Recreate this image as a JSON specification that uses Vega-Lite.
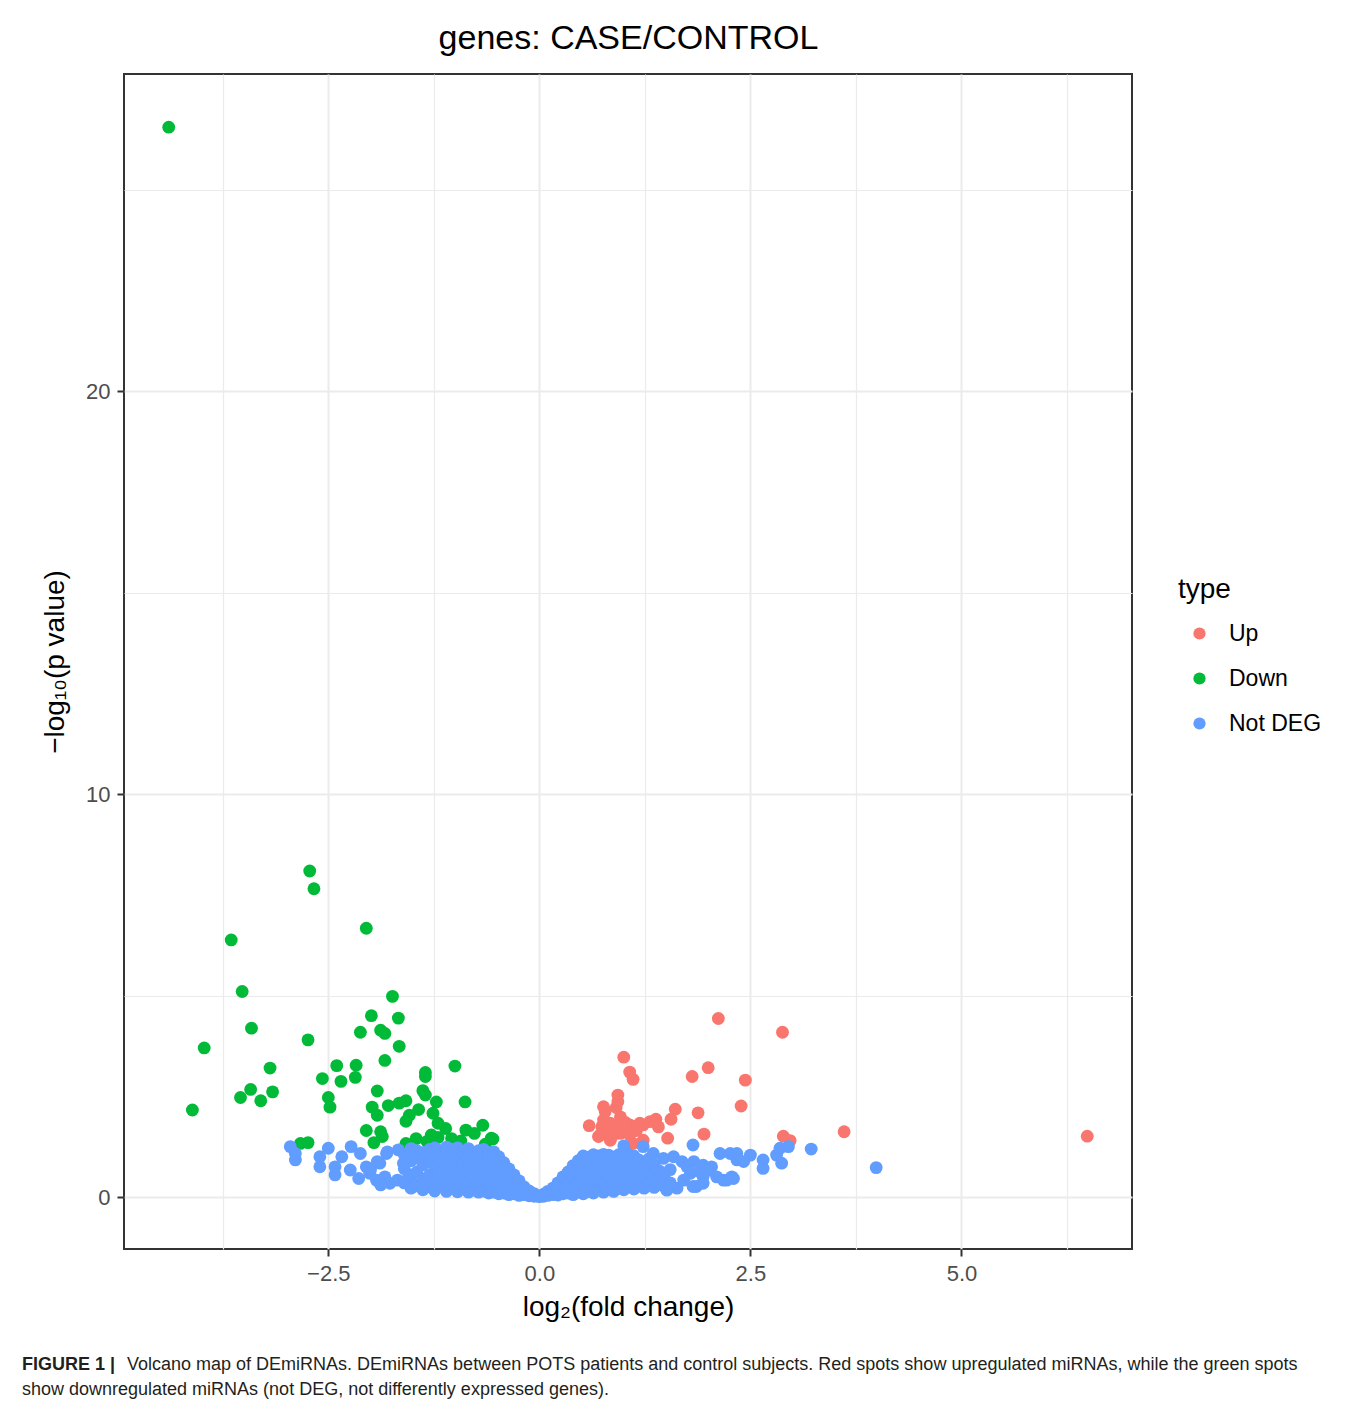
{
"$schema": "https://vega.github.io/schema/vega-lite/v6.json",
"width": 1008, "height": 1175,
"autosize": {"type": "none"},
"padding": {"left": 124, "top": 74, "right": 226, "bottom": 158},
"background": "white",
"title": {
 "text": "FIGURE 1 |",
 "subtitle": ["\u200b\u00a0\u00a0\u00a0\u00a0\u00a0\u00a0\u00a0\u00a0\u00a0\u00a0\u00a0\u00a0\u00a0\u00a0\u00a0\u00a0\u00a0\u00a0\u00a0\u00a0\u00a0Volcano map of DEmiRNAs. DEmiRNAs between POTS patients and control subjects. Red spots show upregulated miRNAs, while the green spots", "show downregulated miRNAs (not DEG, not differently expressed genes)."],
 "orient": "bottom", "anchor": "start", "frame": "group", "dx": -102, "offset": 35,
 "font": "Liberation Sans", "fontSize": 18, "fontWeight": "bold", "color": "#231F20",
 "subtitleFont": "Liberation Sans", "subtitleFontSize": 18, "subtitleColor": "#231F20", "subtitlePadding": -18, "subtitleLineHeight": 25
},
"datasets": {
 "sig": [
  {"log2FC":2.12,"negLog10P":4.43,"type":"Up"},{"log2FC":2.88,"negLog10P":4.09,"type":"Up"},{"log2FC":1.00,"negLog10P":3.47,"type":"Up"},{"log2FC":1.07,"negLog10P":3.10,"type":"Up"},{"log2FC":1.11,"negLog10P":2.92,"type":"Up"},{"log2FC":2.00,"negLog10P":3.21,"type":"Up"},{"log2FC":1.81,"negLog10P":2.99,"type":"Up"},{"log2FC":2.44,"negLog10P":2.90,"type":"Up"},{"log2FC":0.93,"negLog10P":2.53,"type":"Up"},{"log2FC":0.93,"negLog10P":2.37,"type":"Up"},{"log2FC":0.76,"negLog10P":2.24,"type":"Up"},{"log2FC":0.91,"negLog10P":2.22,"type":"Up"},{"log2FC":0.78,"negLog10P":2.12,"type":"Up"},{"log2FC":1.61,"negLog10P":2.18,"type":"Up"},{"log2FC":1.56,"negLog10P":1.93,"type":"Up"},{"log2FC":1.88,"negLog10P":2.09,"type":"Up"},{"log2FC":2.39,"negLog10P":2.26,"type":"Up"},{"log2FC":0.96,"negLog10P":1.99,"type":"Up"},{"log2FC":0.97,"negLog10P":1.76,"type":"Up"},{"log2FC":0.59,"negLog10P":1.77,"type":"Up"},{"log2FC":0.74,"negLog10P":1.74,"type":"Up"},{"log2FC":0.84,"negLog10P":1.83,"type":"Up"},{"log2FC":1.07,"negLog10P":1.79,"type":"Up"},{"log2FC":1.19,"negLog10P":1.83,"type":"Up"},{"log2FC":1.31,"negLog10P":1.87,"type":"Up"},{"log2FC":1.38,"negLog10P":1.93,"type":"Up"},{"log2FC":1.41,"negLog10P":1.74,"type":"Up"},{"log2FC":0.70,"negLog10P":1.50,"type":"Up"},{"log2FC":0.84,"negLog10P":1.41,"type":"Up"},{"log2FC":0.96,"negLog10P":1.58,"type":"Up"},{"log2FC":1.07,"negLog10P":1.54,"type":"Up"},{"log2FC":1.23,"negLog10P":1.41,"type":"Up"},{"log2FC":1.11,"negLog10P":1.33,"type":"Up"},{"log2FC":1.52,"negLog10P":1.46,"type":"Up"},{"log2FC":1.95,"negLog10P":1.56,"type":"Up"},{"log2FC":2.89,"negLog10P":1.51,"type":"Up"},{"log2FC":2.97,"negLog10P":1.40,"type":"Up"},{"log2FC":3.61,"negLog10P":1.62,"type":"Up"},{"log2FC":6.49,"negLog10P":1.51,"type":"Up"},{"log2FC":0.76,"negLog10P":1.91,"type":"Up"},{"log2FC":0.88,"negLog10P":1.70,"type":"Up"},{"log2FC":0.72,"negLog10P":1.54,"type":"Up"},{"log2FC":0.86,"negLog10P":1.50,"type":"Up"},{"log2FC":1.23,"negLog10P":1.79,"type":"Up"},{"log2FC":1.02,"negLog10P":1.85,"type":"Up"},{"log2FC":0.80,"negLog10P":1.62,"type":"Up"},{"log2FC":1.15,"negLog10P":1.65,"type":"Up"},
  {"log2FC":-4.39,"negLog10P":26.55,"type":"Down"},{"log2FC":-2.72,"negLog10P":8.09,"type":"Down"},{"log2FC":-2.67,"negLog10P":7.65,"type":"Down"},{"log2FC":-2.05,"negLog10P":6.67,"type":"Down"},{"log2FC":-3.65,"negLog10P":6.38,"type":"Down"},{"log2FC":-3.52,"negLog10P":5.10,"type":"Down"},{"log2FC":-1.74,"negLog10P":4.98,"type":"Down"},{"log2FC":-1.99,"negLog10P":4.50,"type":"Down"},{"log2FC":-1.67,"negLog10P":4.44,"type":"Down"},{"log2FC":-3.41,"negLog10P":4.19,"type":"Down"},{"log2FC":-2.12,"negLog10P":4.09,"type":"Down"},{"log2FC":-1.88,"negLog10P":4.14,"type":"Down"},{"log2FC":-1.83,"negLog10P":4.06,"type":"Down"},{"log2FC":-3.97,"negLog10P":3.70,"type":"Down"},{"log2FC":-2.74,"negLog10P":3.90,"type":"Down"},{"log2FC":-1.66,"negLog10P":3.74,"type":"Down"},{"log2FC":-1.83,"negLog10P":3.39,"type":"Down"},{"log2FC":-2.40,"negLog10P":3.26,"type":"Down"},{"log2FC":-2.17,"negLog10P":3.27,"type":"Down"},{"log2FC":-1.00,"negLog10P":3.25,"type":"Down"},{"log2FC":-3.19,"negLog10P":3.20,"type":"Down"},{"log2FC":-1.35,"negLog10P":3.09,"type":"Down"},{"log2FC":-1.35,"negLog10P":2.99,"type":"Down"},{"log2FC":-2.57,"negLog10P":2.94,"type":"Down"},{"log2FC":-2.35,"negLog10P":2.87,"type":"Down"},{"log2FC":-2.18,"negLog10P":2.97,"type":"Down"},{"log2FC":-3.42,"negLog10P":2.67,"type":"Down"},{"log2FC":-3.16,"negLog10P":2.61,"type":"Down"},{"log2FC":-3.54,"negLog10P":2.47,"type":"Down"},{"log2FC":-3.30,"negLog10P":2.39,"type":"Down"},{"log2FC":-4.11,"negLog10P":2.16,"type":"Down"},{"log2FC":-1.92,"negLog10P":2.63,"type":"Down"},{"log2FC":-1.38,"negLog10P":2.64,"type":"Down"},{"log2FC":-1.35,"negLog10P":2.53,"type":"Down"},{"log2FC":-1.22,"negLog10P":2.36,"type":"Down"},{"log2FC":-0.88,"negLog10P":2.36,"type":"Down"},{"log2FC":-2.50,"negLog10P":2.47,"type":"Down"},{"log2FC":-2.48,"negLog10P":2.23,"type":"Down"},{"log2FC":-1.98,"negLog10P":2.23,"type":"Down"},{"log2FC":-1.92,"negLog10P":2.03,"type":"Down"},{"log2FC":-1.79,"negLog10P":2.27,"type":"Down"},{"log2FC":-1.66,"negLog10P":2.33,"type":"Down"},{"log2FC":-1.58,"negLog10P":2.39,"type":"Down"},{"log2FC":-1.43,"negLog10P":2.17,"type":"Down"},{"log2FC":-1.54,"negLog10P":2.03,"type":"Down"},{"log2FC":-1.58,"negLog10P":1.88,"type":"Down"},{"log2FC":-1.26,"negLog10P":2.08,"type":"Down"},{"log2FC":-1.20,"negLog10P":1.83,"type":"Down"},{"log2FC":-1.11,"negLog10P":1.70,"type":"Down"},{"log2FC":-0.67,"negLog10P":1.78,"type":"Down"},{"log2FC":-2.05,"negLog10P":1.65,"type":"Down"},{"log2FC":-1.88,"negLog10P":1.62,"type":"Down"},{"log2FC":-1.86,"negLog10P":1.50,"type":"Down"},{"log2FC":-1.96,"negLog10P":1.35,"type":"Down"},{"log2FC":-0.87,"negLog10P":1.66,"type":"Down"},{"log2FC":-0.77,"negLog10P":1.58,"type":"Down"},{"log2FC":-0.57,"negLog10P":1.46,"type":"Down"},{"log2FC":-0.64,"negLog10P":1.31,"type":"Down"},{"log2FC":-1.28,"negLog10P":1.54,"type":"Down"},{"log2FC":-1.20,"negLog10P":1.48,"type":"Down"},{"log2FC":-1.46,"negLog10P":1.45,"type":"Down"},{"log2FC":-1.58,"negLog10P":1.33,"type":"Down"},{"log2FC":-2.83,"negLog10P":1.33,"type":"Down"},{"log2FC":-2.74,"negLog10P":1.35,"type":"Down"},{"log2FC":-0.93,"negLog10P":1.39,"type":"Down"},{"log2FC":-0.55,"negLog10P":1.44,"type":"Down"},{"log2FC":-1.04,"negLog10P":1.45,"type":"Down"},{"log2FC":-1.33,"negLog10P":1.38,"type":"Down"}
 ],
 "nd": [
  {"log2FC":-2.95,"negLog10P":1.25,"type":"Not DEG"},{"log2FC":-2.89,"negLog10P":1.08,"type":"Not DEG"},{"log2FC":-2.89,"negLog10P":0.92,"type":"Not DEG"},{"log2FC":-2.60,"negLog10P":1.00,"type":"Not DEG"},{"log2FC":-2.60,"negLog10P":0.75,"type":"Not DEG"},{"log2FC":-2.50,"negLog10P":1.21,"type":"Not DEG"},{"log2FC":-2.42,"negLog10P":0.75,"type":"Not DEG"},{"log2FC":-2.42,"negLog10P":0.55,"type":"Not DEG"},{"log2FC":-2.34,"negLog10P":1.00,"type":"Not DEG"},{"log2FC":-2.24,"negLog10P":0.67,"type":"Not DEG"},{"log2FC":-2.23,"negLog10P":1.25,"type":"Not DEG"},{"log2FC":-2.12,"negLog10P":1.08,"type":"Not DEG"},{"log2FC":-2.14,"negLog10P":0.46,"type":"Not DEG"},{"log2FC":-2.05,"negLog10P":0.75,"type":"Not DEG"},{"log2FC":-2.01,"negLog10P":0.59,"type":"Not DEG"},{"log2FC":-1.89,"negLog10P":0.84,"type":"Not DEG"},{"log2FC":-1.93,"negLog10P":0.42,"type":"Not DEG"},{"log2FC":-1.81,"negLog10P":1.08,"type":"Not DEG"},{"log2FC":-1.83,"negLog10P":0.50,"type":"Not DEG"},{"log2FC":-1.77,"negLog10P":0.34,"type":"Not DEG"},{"log2FC":-1.67,"negLog10P":1.17,"type":"Not DEG"},{"log2FC":-1.61,"negLog10P":0.84,"type":"Not DEG"},{"log2FC":-1.57,"negLog10P":0.42,"type":"Not DEG"},{"log2FC":-1.49,"negLog10P":0.26,"type":"Not DEG"},{"log2FC":-2.00,"negLog10P":0.67,"type":"Not DEG"},{"log2FC":-1.88,"negLog10P":0.30,"type":"Not DEG"},{"log2FC":-1.92,"negLog10P":0.88,"type":"Not DEG"},{"log2FC":-1.80,"negLog10P":1.12,"type":"Not DEG"},{"log2FC":-1.68,"negLog10P":0.42,"type":"Not DEG"},
  {"log2FC":-1.60,"negLog10P":0.35,"type":"Not DEG"},{"log2FC":-1.60,"negLog10P":0.70,"type":"Not DEG"},{"log2FC":-1.60,"negLog10P":1.05,"type":"Not DEG"},
  {"log2FC":-1.52,"negLog10P":0.22,"type":"Not DEG"},{"log2FC":-1.52,"negLog10P":0.55,"type":"Not DEG"},{"log2FC":-1.52,"negLog10P":0.90,"type":"Not DEG"},{"log2FC":-1.52,"negLog10P":1.20,"type":"Not DEG"},
  {"log2FC":-1.45,"negLog10P":0.30,"type":"Not DEG"},{"log2FC":-1.45,"negLog10P":0.62,"type":"Not DEG"},{"log2FC":-1.45,"negLog10P":0.98,"type":"Not DEG"},{"log2FC":-1.45,"negLog10P":1.15,"type":"Not DEG"},
  {"log2FC":-1.38,"negLog10P":0.18,"type":"Not DEG"},{"log2FC":-1.38,"negLog10P":0.45,"type":"Not DEG"},{"log2FC":-1.38,"negLog10P":0.80,"type":"Not DEG"},{"log2FC":-1.38,"negLog10P":1.10,"type":"Not DEG"},
  {"log2FC":-1.30,"negLog10P":0.25,"type":"Not DEG"},{"log2FC":-1.30,"negLog10P":0.55,"type":"Not DEG"},{"log2FC":-1.30,"negLog10P":0.88,"type":"Not DEG"},{"log2FC":-1.30,"negLog10P":1.18,"type":"Not DEG"},
  {"log2FC":-1.24,"negLog10P":0.15,"type":"Not DEG"},{"log2FC":-1.24,"negLog10P":0.40,"type":"Not DEG"},{"log2FC":-1.24,"negLog10P":0.72,"type":"Not DEG"},{"log2FC":-1.24,"negLog10P":1.02,"type":"Not DEG"},{"log2FC":-1.24,"negLog10P":1.22,"type":"Not DEG"},
  {"log2FC":-1.17,"negLog10P":0.28,"type":"Not DEG"},{"log2FC":-1.17,"negLog10P":0.60,"type":"Not DEG"},{"log2FC":-1.17,"negLog10P":0.92,"type":"Not DEG"},{"log2FC":-1.17,"negLog10P":1.15,"type":"Not DEG"},
  {"log2FC":-1.10,"negLog10P":0.14,"type":"Not DEG"},{"log2FC":-1.10,"negLog10P":0.45,"type":"Not DEG"},{"log2FC":-1.10,"negLog10P":0.78,"type":"Not DEG"},{"log2FC":-1.10,"negLog10P":1.05,"type":"Not DEG"},{"log2FC":-1.10,"negLog10P":1.24,"type":"Not DEG"},
  {"log2FC":-1.03,"negLog10P":0.22,"type":"Not DEG"},{"log2FC":-1.03,"negLog10P":0.55,"type":"Not DEG"},{"log2FC":-1.03,"negLog10P":0.88,"type":"Not DEG"},{"log2FC":-1.03,"negLog10P":1.18,"type":"Not DEG"},
  {"log2FC":-0.97,"negLog10P":0.13,"type":"Not DEG"},{"log2FC":-0.97,"negLog10P":0.38,"type":"Not DEG"},{"log2FC":-0.97,"negLog10P":0.70,"type":"Not DEG"},{"log2FC":-0.97,"negLog10P":1.00,"type":"Not DEG"},{"log2FC":-0.97,"negLog10P":1.22,"type":"Not DEG"},
  {"log2FC":-0.90,"negLog10P":0.20,"type":"Not DEG"},{"log2FC":-0.90,"negLog10P":0.50,"type":"Not DEG"},{"log2FC":-0.90,"negLog10P":0.82,"type":"Not DEG"},{"log2FC":-0.90,"negLog10P":1.12,"type":"Not DEG"},
  {"log2FC":-0.84,"negLog10P":0.12,"type":"Not DEG"},{"log2FC":-0.84,"negLog10P":0.35,"type":"Not DEG"},{"log2FC":-0.84,"negLog10P":0.65,"type":"Not DEG"},{"log2FC":-0.84,"negLog10P":0.95,"type":"Not DEG"},{"log2FC":-0.84,"negLog10P":1.20,"type":"Not DEG"},
  {"log2FC":-0.78,"negLog10P":0.18,"type":"Not DEG"},{"log2FC":-0.78,"negLog10P":0.48,"type":"Not DEG"},{"log2FC":-0.78,"negLog10P":0.78,"type":"Not DEG"},{"log2FC":-0.78,"negLog10P":1.08,"type":"Not DEG"},
  {"log2FC":-0.72,"negLog10P":0.12,"type":"Not DEG"},{"log2FC":-0.72,"negLog10P":0.32,"type":"Not DEG"},{"log2FC":-0.72,"negLog10P":0.62,"type":"Not DEG"},{"log2FC":-0.72,"negLog10P":0.92,"type":"Not DEG"},{"log2FC":-0.72,"negLog10P":1.15,"type":"Not DEG"},
  {"log2FC":-0.66,"negLog10P":0.15,"type":"Not DEG"},{"log2FC":-0.66,"negLog10P":0.45,"type":"Not DEG"},{"log2FC":-0.66,"negLog10P":0.75,"type":"Not DEG"},{"log2FC":-0.66,"negLog10P":1.02,"type":"Not DEG"},{"log2FC":-0.66,"negLog10P":1.18,"type":"Not DEG"},
  {"log2FC":-0.60,"negLog10P":0.10,"type":"Not DEG"},{"log2FC":-0.60,"negLog10P":0.30,"type":"Not DEG"},{"log2FC":-0.60,"negLog10P":0.58,"type":"Not DEG"},{"log2FC":-0.60,"negLog10P":0.88,"type":"Not DEG"},{"log2FC":-0.60,"negLog10P":1.10,"type":"Not DEG"},
  {"log2FC":-0.54,"negLog10P":0.12,"type":"Not DEG"},{"log2FC":-0.54,"negLog10P":0.40,"type":"Not DEG"},{"log2FC":-0.54,"negLog10P":0.70,"type":"Not DEG"},{"log2FC":-0.54,"negLog10P":0.95,"type":"Not DEG"},{"log2FC":-0.54,"negLog10P":1.12,"type":"Not DEG"},
  {"log2FC":-0.48,"negLog10P":0.08,"type":"Not DEG"},{"log2FC":-0.48,"negLog10P":0.25,"type":"Not DEG"},{"log2FC":-0.48,"negLog10P":0.52,"type":"Not DEG"},{"log2FC":-0.48,"negLog10P":0.80,"type":"Not DEG"},{"log2FC":-0.48,"negLog10P":1.00,"type":"Not DEG"},
  {"log2FC":-0.42,"negLog10P":0.10,"type":"Not DEG"},{"log2FC":-0.42,"negLog10P":0.35,"type":"Not DEG"},{"log2FC":-0.42,"negLog10P":0.62,"type":"Not DEG"},{"log2FC":-0.42,"negLog10P":0.85,"type":"Not DEG"},
  {"log2FC":-0.36,"negLog10P":0.06,"type":"Not DEG"},{"log2FC":-0.36,"negLog10P":0.22,"type":"Not DEG"},{"log2FC":-0.36,"negLog10P":0.48,"type":"Not DEG"},{"log2FC":-0.36,"negLog10P":0.70,"type":"Not DEG"},
  {"log2FC":-0.30,"negLog10P":0.08,"type":"Not DEG"},{"log2FC":-0.30,"negLog10P":0.30,"type":"Not DEG"},{"log2FC":-0.30,"negLog10P":0.55,"type":"Not DEG"},
  {"log2FC":-0.24,"negLog10P":0.04,"type":"Not DEG"},{"log2FC":-0.24,"negLog10P":0.20,"type":"Not DEG"},{"log2FC":-0.24,"negLog10P":0.40,"type":"Not DEG"},
  {"log2FC":-0.18,"negLog10P":0.06,"type":"Not DEG"},{"log2FC":-0.18,"negLog10P":0.25,"type":"Not DEG"},
  {"log2FC":-0.12,"negLog10P":0.03,"type":"Not DEG"},{"log2FC":-0.12,"negLog10P":0.15,"type":"Not DEG"},
  {"log2FC":-0.06,"negLog10P":0.02,"type":"Not DEG"},{"log2FC":-0.06,"negLog10P":0.08,"type":"Not DEG"},
  {"log2FC":0.00,"negLog10P":0.01,"type":"Not DEG"},
  {"log2FC":0.05,"negLog10P":0.02,"type":"Not DEG"},{"log2FC":0.05,"negLog10P":0.07,"type":"Not DEG"},
  {"log2FC":0.10,"negLog10P":0.04,"type":"Not DEG"},{"log2FC":0.10,"negLog10P":0.14,"type":"Not DEG"},
  {"log2FC":0.16,"negLog10P":0.06,"type":"Not DEG"},{"log2FC":0.16,"negLog10P":0.22,"type":"Not DEG"},
  {"log2FC":0.22,"negLog10P":0.05,"type":"Not DEG"},{"log2FC":0.22,"negLog10P":0.18,"type":"Not DEG"},{"log2FC":0.22,"negLog10P":0.35,"type":"Not DEG"},
  {"log2FC":0.28,"negLog10P":0.08,"type":"Not DEG"},{"log2FC":0.28,"negLog10P":0.28,"type":"Not DEG"},{"log2FC":0.28,"negLog10P":0.50,"type":"Not DEG"},
  {"log2FC":0.34,"negLog10P":0.10,"type":"Not DEG"},{"log2FC":0.34,"negLog10P":0.35,"type":"Not DEG"},{"log2FC":0.34,"negLog10P":0.62,"type":"Not DEG"},
  {"log2FC":0.40,"negLog10P":0.06,"type":"Not DEG"},{"log2FC":0.40,"negLog10P":0.25,"type":"Not DEG"},{"log2FC":0.40,"negLog10P":0.50,"type":"Not DEG"},{"log2FC":0.40,"negLog10P":0.78,"type":"Not DEG"},
  {"log2FC":0.46,"negLog10P":0.12,"type":"Not DEG"},{"log2FC":0.46,"negLog10P":0.38,"type":"Not DEG"},{"log2FC":0.46,"negLog10P":0.65,"type":"Not DEG"},{"log2FC":0.46,"negLog10P":0.90,"type":"Not DEG"},
  {"log2FC":0.52,"negLog10P":0.08,"type":"Not DEG"},{"log2FC":0.52,"negLog10P":0.28,"type":"Not DEG"},{"log2FC":0.52,"negLog10P":0.55,"type":"Not DEG"},{"log2FC":0.52,"negLog10P":0.82,"type":"Not DEG"},{"log2FC":0.52,"negLog10P":1.02,"type":"Not DEG"},
  {"log2FC":0.58,"negLog10P":0.14,"type":"Not DEG"},{"log2FC":0.58,"negLog10P":0.42,"type":"Not DEG"},{"log2FC":0.58,"negLog10P":0.70,"type":"Not DEG"},{"log2FC":0.58,"negLog10P":0.98,"type":"Not DEG"},
  {"log2FC":0.64,"negLog10P":0.10,"type":"Not DEG"},{"log2FC":0.64,"negLog10P":0.32,"type":"Not DEG"},{"log2FC":0.64,"negLog10P":0.60,"type":"Not DEG"},{"log2FC":0.64,"negLog10P":0.88,"type":"Not DEG"},{"log2FC":0.64,"negLog10P":1.05,"type":"Not DEG"},
  {"log2FC":0.70,"negLog10P":0.18,"type":"Not DEG"},{"log2FC":0.70,"negLog10P":0.45,"type":"Not DEG"},{"log2FC":0.70,"negLog10P":0.75,"type":"Not DEG"},{"log2FC":0.70,"negLog10P":1.02,"type":"Not DEG"},
  {"log2FC":0.76,"negLog10P":0.12,"type":"Not DEG"},{"log2FC":0.76,"negLog10P":0.36,"type":"Not DEG"},{"log2FC":0.76,"negLog10P":0.65,"type":"Not DEG"},{"log2FC":0.76,"negLog10P":0.92,"type":"Not DEG"},{"log2FC":0.76,"negLog10P":1.06,"type":"Not DEG"},
  {"log2FC":0.82,"negLog10P":0.20,"type":"Not DEG"},{"log2FC":0.82,"negLog10P":0.50,"type":"Not DEG"},{"log2FC":0.82,"negLog10P":0.80,"type":"Not DEG"},{"log2FC":0.82,"negLog10P":1.04,"type":"Not DEG"},
  {"log2FC":0.88,"negLog10P":0.14,"type":"Not DEG"},{"log2FC":0.88,"negLog10P":0.40,"type":"Not DEG"},{"log2FC":0.88,"negLog10P":0.70,"type":"Not DEG"},{"log2FC":0.88,"negLog10P":0.98,"type":"Not DEG"},
  {"log2FC":0.94,"negLog10P":0.22,"type":"Not DEG"},{"log2FC":0.94,"negLog10P":0.55,"type":"Not DEG"},{"log2FC":0.94,"negLog10P":0.85,"type":"Not DEG"},{"log2FC":0.94,"negLog10P":1.05,"type":"Not DEG"},
  {"log2FC":1.00,"negLog10P":0.18,"type":"Not DEG"},{"log2FC":1.00,"negLog10P":0.45,"type":"Not DEG"},{"log2FC":1.00,"negLog10P":0.75,"type":"Not DEG"},{"log2FC":1.00,"negLog10P":1.02,"type":"Not DEG"},
  {"log2FC":1.06,"negLog10P":0.25,"type":"Not DEG"},{"log2FC":1.06,"negLog10P":0.58,"type":"Not DEG"},{"log2FC":1.06,"negLog10P":0.90,"type":"Not DEG"},{"log2FC":1.06,"negLog10P":1.06,"type":"Not DEG"},
  {"log2FC":1.12,"negLog10P":0.20,"type":"Not DEG"},{"log2FC":1.12,"negLog10P":0.48,"type":"Not DEG"},{"log2FC":1.12,"negLog10P":0.78,"type":"Not DEG"},{"log2FC":1.12,"negLog10P":1.02,"type":"Not DEG"},
  {"log2FC":1.18,"negLog10P":0.28,"type":"Not DEG"},{"log2FC":1.18,"negLog10P":0.60,"type":"Not DEG"},{"log2FC":1.18,"negLog10P":0.92,"type":"Not DEG"},
  {"log2FC":1.24,"negLog10P":0.22,"type":"Not DEG"},{"log2FC":1.24,"negLog10P":0.50,"type":"Not DEG"},{"log2FC":1.24,"negLog10P":0.82,"type":"Not DEG"},
  {"log2FC":1.30,"negLog10P":0.30,"type":"Not DEG"},{"log2FC":1.30,"negLog10P":0.62,"type":"Not DEG"},{"log2FC":1.30,"negLog10P":0.95,"type":"Not DEG"},
  {"log2FC":1.36,"negLog10P":0.24,"type":"Not DEG"},{"log2FC":1.36,"negLog10P":0.52,"type":"Not DEG"},{"log2FC":1.36,"negLog10P":0.80,"type":"Not DEG"},
  {"log2FC":1.42,"negLog10P":0.32,"type":"Not DEG"},{"log2FC":1.42,"negLog10P":0.65,"type":"Not DEG"},
  {"log2FC":1.48,"negLog10P":0.26,"type":"Not DEG"},{"log2FC":1.48,"negLog10P":0.55,"type":"Not DEG"},
  {"log2FC":1.55,"negLog10P":0.35,"type":"Not DEG"},{"log2FC":1.55,"negLog10P":0.68,"type":"Not DEG"},
  {"log2FC":1.00,"negLog10P":1.27,"type":"Not DEG"},{"log2FC":1.82,"negLog10P":1.29,"type":"Not DEG"},{"log2FC":1.23,"negLog10P":1.25,"type":"Not DEG"},{"log2FC":1.35,"negLog10P":1.08,"type":"Not DEG"},{"log2FC":1.47,"negLog10P":0.96,"type":"Not DEG"},{"log2FC":1.59,"negLog10P":1.00,"type":"Not DEG"},{"log2FC":1.69,"negLog10P":0.88,"type":"Not DEG"},
  {"log2FC":2.14,"negLog10P":1.08,"type":"Not DEG"},{"log2FC":2.26,"negLog10P":1.08,"type":"Not DEG"},{"log2FC":2.34,"negLog10P":1.08,"type":"Not DEG"},{"log2FC":2.50,"negLog10P":1.04,"type":"Not DEG"},{"log2FC":2.65,"negLog10P":0.92,"type":"Not DEG"},{"log2FC":2.65,"negLog10P":0.71,"type":"Not DEG"},{"log2FC":2.81,"negLog10P":1.04,"type":"Not DEG"},{"log2FC":2.87,"negLog10P":0.84,"type":"Not DEG"},{"log2FC":2.85,"negLog10P":1.21,"type":"Not DEG"},{"log2FC":2.95,"negLog10P":1.25,"type":"Not DEG"},{"log2FC":3.22,"negLog10P":1.19,"type":"Not DEG"},{"log2FC":3.99,"negLog10P":0.73,"type":"Not DEG"},
  {"log2FC":2.30,"negLog10P":0.46,"type":"Not DEG"},{"log2FC":2.22,"negLog10P":0.42,"type":"Not DEG"},{"log2FC":2.10,"negLog10P":0.50,"type":"Not DEG"},{"log2FC":1.94,"negLog10P":0.50,"type":"Not DEG"},{"log2FC":1.79,"negLog10P":0.59,"type":"Not DEG"},{"log2FC":1.86,"negLog10P":0.26,"type":"Not DEG"},{"log2FC":1.63,"negLog10P":0.22,"type":"Not DEG"},{"log2FC":1.55,"negLog10P":0.26,"type":"Not DEG"},
  {"log2FC":1.75,"negLog10P":0.75,"type":"Not DEG"},{"log2FC":1.83,"negLog10P":0.88,"type":"Not DEG"},{"log2FC":1.94,"negLog10P":0.79,"type":"Not DEG"},{"log2FC":2.04,"negLog10P":0.75,"type":"Not DEG"},{"log2FC":2.34,"negLog10P":0.92,"type":"Not DEG"},{"log2FC":2.42,"negLog10P":0.88,"type":"Not DEG"},
  {"log2FC":1.90,"negLog10P":0.63,"type":"Not DEG"},{"log2FC":2.02,"negLog10P":0.67,"type":"Not DEG"},{"log2FC":2.18,"negLog10P":0.42,"type":"Not DEG"},{"log2FC":2.28,"negLog10P":0.50,"type":"Not DEG"},{"log2FC":1.94,"negLog10P":0.34,"type":"Not DEG"},{"log2FC":1.82,"negLog10P":0.26,"type":"Not DEG"},{"log2FC":1.71,"negLog10P":0.42,"type":"Not DEG"},{"log2FC":1.51,"negLog10P":0.17,"type":"Not DEG"}
 ]
},
"layer": [
 {
  "data": {"name": "sig"},
  "mark": {"type": "point", "filled": true, "shape": "circle", "size": 165, "opacity": 1, "strokeWidth": 0},
  "encoding": {
   "x": {"field": "log2FC", "type": "quantitative",
     "scale": {"domain": [-4.92, 7.02], "nice": false, "zero": false},
     "axis": {"orient": "bottom", "values": [-2.5, 0, 2.5, 5], "format": ".1f", "title": "log\u2082(fold change)", "grid": true, "gridWidth": 2, "titlePadding": 9}},
   "y": {"field": "negLog10P", "type": "quantitative",
     "scale": {"domain": [-1.29, 27.87], "nice": false, "zero": false},
     "axis": {"orient": "left", "values": [0, 10, 20], "title": "\u2212log\u2081\u2080(p value)", "grid": true, "gridWidth": 2, "titlePadding": 16}},
   "color": {"field": "type", "type": "nominal",
     "scale": {"domain": ["Up", "Down", "Not DEG"], "range": ["#F8766D", "#00BA38", "#619CFF"]},
     "legend": {"title": "type", "orient": "none", "legendX": 1054, "legendY": 502, "padding": 0,
       "titleFontSize": 28, "titleFontWeight": "normal", "titleColor": "#000000", "titleFont": "Liberation Sans", "titlePadding": 18,
       "labelFontSize": 23, "labelColor": "#000000", "labelFont": "Liberation Sans", "labelOffset": 18,
       "symbolType": "circle", "symbolSize": 150, "symbolOffset": 10, "symbolStrokeWidth": 0, "rowPadding": 21}}
  }
 },
 {
  "data": {"name": "nd"},
  "mark": {"type": "point", "filled": true, "shape": "circle", "size": 165, "opacity": 1, "strokeWidth": 0},
  "encoding": {
   "x": {"field": "log2FC", "type": "quantitative",
     "axis": {"orient": "top", "values": [-3.75, -1.25, 1.25, 3.75, 6.25], "labels": false, "ticks": false, "domain": false, "grid": true, "gridWidth": 1.2, "title": "genes: CASE/CONTROL", "titleFontSize": 34, "titlePadding": 19}},
   "y": {"field": "negLog10P", "type": "quantitative",
     "axis": {"orient": "right", "values": [5, 15, 25], "labels": false, "ticks": false, "domain": false, "grid": true, "gridWidth": 1.2, "title": null}},
   "color": {"field": "type", "type": "nominal"}
  }
 }
],
"resolve": {"axis": {"x": "independent", "y": "independent"}},
"config": {
 "font": "Liberation Sans",
 "view": {"stroke": "#333333", "strokeWidth": 2},
 "axis": {"labelFont": "Liberation Sans", "labelFontSize": 22, "labelColor": "#4D4D4D", "labelPadding": 7,
   "tickColor": "#333333", "tickWidth": 2, "tickSize": 7, "domain": false,
   "gridColor": "#EBEBEB", "titleFont": "Liberation Sans", "titleFontSize": 28, "titleFontWeight": "normal", "titleColor": "#000000"}
}
}
